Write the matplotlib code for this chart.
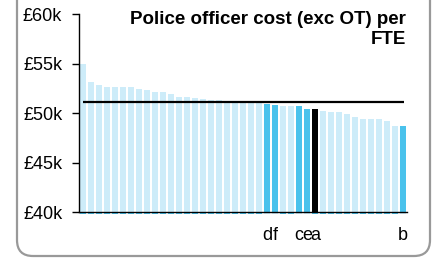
import matplotlib
matplotlib.use("Agg")
import matplotlib.pyplot as plt
from matplotlib.patches import FancyBboxPatch
from matplotlib.transforms import IdentityTransform

plt.rcParams["font.family"] = ["Liberation Sans", "DejaVu Sans"]

# custo por FTE (milhares de £), ordenado
custos = [54.95, 53.15, 52.86, 52.66, 52.66, 52.66, 52.6, 52.47, 52.33, 52.12,
          52.09, 51.89, 51.65, 51.65, 51.52, 51.41, 51.35, 51.35, 51.1, 51.1,
          51.05, 51.0, 51.0, 50.92, 50.84, 50.77, 50.7, 50.7, 50.47, 50.37,
          50.2, 50.13, 50.13, 49.9, 49.63, 49.43, 49.4, 49.4, 49.22, 48.69,
          48.65]
destaques = {23: "d", 24: "f", 27: "c", 28: "e", 29: "a", 40: "b"}
media = 51.1
yticks = [40, 45, 50, 55, 60]

CLARO = "#CDECF9"
ESCURO = "#4AC2EC"
PRETO = "#000000"

fig = plt.figure(figsize=(4.34, 2.6), dpi=100)
ax = fig.add_axes([0.182, 0.1846, 0.7558, 0.7604])

cores = []
faixa = []
for i in range(len(custos)):
    if i == 29:
        cores.append(PRETO)
        faixa.append(ESCURO)
    elif i in destaques:
        cores.append(ESCURO)
        faixa.append(CLARO)
    else:
        cores.append(CLARO)
        faixa.append(ESCURO)

x = range(len(custos))
ax.bar(x, [c - 40 for c in custos], bottom=40, width=0.86, color=cores, zorder=2)
ax.bar(x, 0.25, bottom=39.75, width=0.86, color=faixa, clip_on=False, zorder=1)
ax.hlines(media, -0.05, 40.1, color="black", linewidth=1.6, zorder=3)

ax.set_xlim(-0.5, len(custos) - 0.5)
ax.set_ylim(40, 60)
ax.set_yticks(yticks)
ax.set_yticklabels([f"£{v}k" for v in yticks], fontsize=13)
ax.set_xticks(list(destaques.keys()))
ax.set_xticklabels(list(destaques.values()), fontsize=13)
ax.tick_params(axis="x", length=0, pad=11)
ax.tick_params(axis="y", length=5, width=1, direction="out", pad=7)
for s in ["top", "right"]:
    ax.spines[s].set_visible(False)
for s in ["left", "bottom"]:
    ax.spines[s].set_linewidth(1.0)
ax.spines["bottom"].set_zorder(4)

fig.text(406 / 434, 1 - 11 / 260, "Police officer cost (exc OT) per\nFTE",
         ha="right", va="top", fontsize=13.5, fontweight="bold", linespacing=1.25)

moldura = FancyBboxPatch((17, 4), 413, 300, boxstyle="round,pad=0,rounding_size=16",
                         transform=IdentityTransform(), facecolor="none",
                         edgecolor="#999999", linewidth=1.6)
fig.patches.append(moldura)

fig.savefig("out.png", dpi=100)
